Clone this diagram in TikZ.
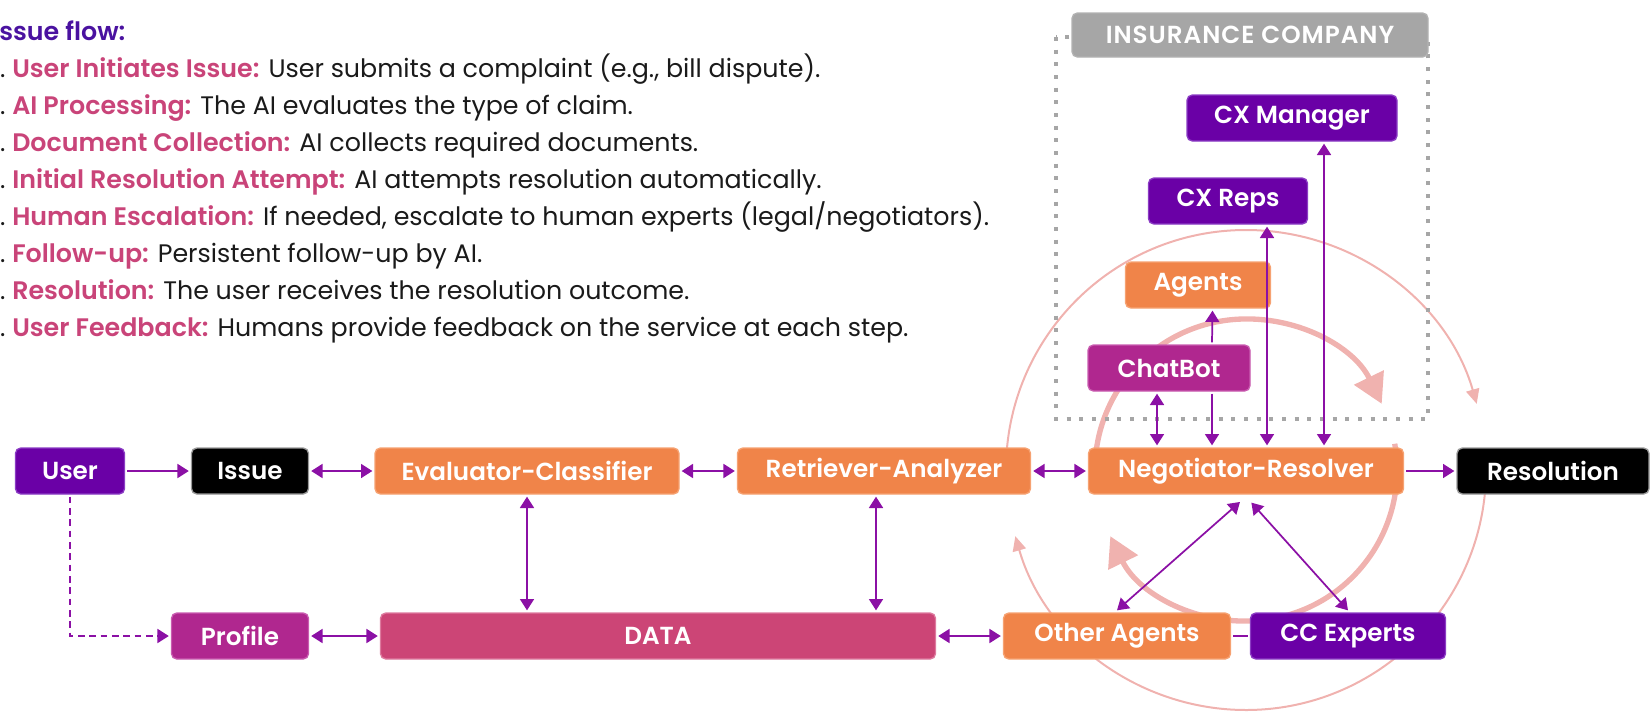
\documentclass[tikz,border=0pt]{standalone}
\usepackage{fontspec}
\setmainfont{Poppins}
\newfontfamily\semibold{Poppins SemiBold}
\newfontfamily\tagfont{Poppins SemiBold}[LetterSpace=4]
\usetikzlibrary{positioning, arrows.meta, calc}
\definecolor{flowpurple}{HTML}{6A00A6}
\definecolor{flowpurpleedge}{HTML}{8B3CC4}
\definecolor{floworange}{HTML}{F08449}
\definecolor{floworangeedge}{HTML}{F6A272}
\definecolor{flowmagenta}{HTML}{B0278F}
\definecolor{flowmagentaedge}{HTML}{C95CB0}
\definecolor{flowdata}{HTML}{CC4576}
\definecolor{flowdataedge}{HTML}{DD7A9E}
\definecolor{flowarrow}{HTML}{8B10A5}
\definecolor{flowring}{HTML}{F0B2AF}
\definecolor{flowgray}{HTML}{A6A6A6}
\definecolor{flowpink}{HTML}{C94479}
\definecolor{flowindigo}{HTML}{4A12A0}
\definecolor{flowtext}{HTML}{1A1A1A}
\newcommand{\boxfont}{\fontsize{18.5}{20}\selectfont\semibold}

\begin{document}
\begin{tikzpicture}[x=0.75pt, y=-0.75pt,
    item/.style={anchor=base west, inner sep=0pt, text=flowtext, font=\fontsize{19}{22}\selectfont},
    heading/.style={anchor=base west, inner sep=0pt, text=flowindigo, font=\fontsize{19}{22}\selectfont\semibold},
    box/.style={rounded corners=4pt, minimum height=34.5pt, inner sep=0pt, outer sep=2pt, text=white, font=\boxfont, line width=1pt},
    purplebox/.style={box, fill=flowpurple, draw=flowpurpleedge},
    blackbox/.style={box, fill=black, draw=gray!80},
    orangebox/.style={box, fill=floworange, draw=floworangeedge},
    magentabox/.style={box, fill=flowmagenta, draw=flowmagentaedge},
    databox/.style={box, fill=flowdata, draw=flowdataedge},
    tagbox/.style={box, fill=flowgray, draw=gray!60, minimum height=33pt, font=\fontsize{18.5}{20}\selectfont\tagfont},
    link/.style={draw=flowarrow, line width=1.3pt, -{Triangle[length=8.5pt, width=10.5pt]}},
    twoway/.style={link, {Triangle[length=8.5pt, width=10.5pt]}-{Triangle[length=8.5pt, width=10.5pt]}},
    ring/.style={draw=flowring, line width=1.5pt, -{Triangle[length=11pt, width=10pt]}},
    bigring/.style={draw=flowring, line width=4pt, -{Triangle[length=22pt, width=24pt]}},
    dotbox/.style={draw=flowgray, line width=3pt, dash pattern=on 3pt off 6.5pt}]

  \useasboundingbox (0,0) rectangle (1652,714);
  \clip (0,0) rectangle (1652,714);

  % steps of the flow
  \node[heading] (heading) at (-8, 40) {Issue flow:};
  \node[item] (item1) at (12, 77) {\llap{1.\ }\textcolor{flowpink}{\semibold User Initiates Issue:} User submits a complaint (e.g., bill dispute).};
  \node[item] (item2) at (12, 114) {\llap{2.\ }\textcolor{flowpink}{\semibold AI Processing:} The AI evaluates the type of claim.};
  \node[item] (item3) at (12, 151) {\llap{3.\ }\textcolor{flowpink}{\semibold Document Collection:} AI collects required documents.};
  \node[item] (item4) at (12, 188) {\llap{4.\ }\textcolor{flowpink}{\semibold Initial Resolution Attempt:} AI attempts resolution automatically.};
  \node[item] (item5) at (12, 225) {\llap{5.\ }\textcolor{flowpink}{\semibold Human Escalation:} If needed, escalate to human experts (legal/negotiators).};
  \node[item] (item6) at (12, 262) {\llap{6.\ }\textcolor{flowpink}{\semibold Follow-up:} Persistent follow-up by AI.};
  \node[item] (item7) at (12, 299) {\llap{7.\ }\textcolor{flowpink}{\semibold Resolution:} The user receives the resolution outcome.};
  \node[item] (item8) at (12, 336) {\llap{8.\ }\textcolor{flowpink}{\semibold User Feedback:} Humans provide feedback on the service at each step.};

  % feedback loops round the resolver
  \coordinate (hub) at (1246, 470);
  \draw[ring] (hub) ++(180:240) arc[start angle=180, end angle=344, radius=240];
  \draw[ring] (hub) ++(0:240) arc[start angle=0, end angle=164, radius=240];
  \draw[bigring] (hub) ++(171:151) arc[start angle=171, end angle=334, radius=151];
  \draw[bigring] (hub) ++(-10:151) arc[start angle=-10, end angle=154, radius=151];

  % company frame
  \draw[dotbox] (1056, 37) rectangle (1428, 419);
  \node[tagbox, minimum width=267pt] (insurer) at (1250, 35) {INSURANCE COMPANY};

  % main row
  \node[purplebox, minimum width=81.8pt] (user) at (70, 471) {User};
  \node[blackbox, minimum width=87.8pt] (issue) at (250, 471) {Issue};
  \node[orangebox, minimum width=228pt] (eval) at (527, 471) {Evaluator-Classifier};
  \node[orangebox, minimum width=219.8pt] (retr) at (884, 471) {Retriever-Analyzer};
  \node[orangebox, minimum width=236.3pt] (nego) at (1246, 471) {Negotiator-Resolver};
  \node[blackbox, minimum width=144pt] (resol) at (1553, 471) {Resolution};

  % bottom row
  \node[magentabox, minimum width=102.8pt] (profile) at (240, 636) {Profile};
  \node[databox, minimum width=416.3pt] (data) at (658, 636) {DATA};
  \node[orangebox, minimum width=170.3pt] (other) at (1117, 636) {Other Agents};
  \node[purplebox, minimum width=146.3pt] (ccexp) at (1348, 636) {CC Experts};

  % inside the company
  \node[magentabox, minimum width=121.5pt] (chatbot) at (1169, 368) {ChatBot};
  \node[orangebox, minimum width=108.8pt] (agents) at (1198, 285) {Agents};
  \node[purplebox, minimum width=119.3pt] (cxreps) at (1228, 201) {CX Reps};
  \node[purplebox, minimum width=157.5pt] (cxman) at (1292, 118) {CX Manager};

  % connectors
  \draw[link] (user) -- (issue);
  \draw[twoway] (issue) -- (eval);
  \draw[twoway] (eval) -- (retr);
  \draw[twoway] (retr) -- (nego);
  \draw[link] (nego) -- (resol);
  \draw[link, dashed, dash pattern=on 5pt off 3.5pt] (user.south) |- (profile.west);
  \draw[twoway] (profile) -- (data);
  \draw[twoway] (data) -- (other);
  \draw[twoway] (eval.south) -- (eval.south |- data.north);
  \draw[twoway] ($(retr.south)+(-8,0)$) -- ($(data.north -| retr.south)+(-8,0)$);
  \draw[twoway, shorten <=6pt] (nego.south) -- (other.north);
  \draw[twoway, shorten <=6pt] (nego.south) -- (ccexp.north);
  \draw[flowarrow, line width=1.3pt] (other) -- (ccexp);
  \draw[twoway] ($(chatbot.south)+(-12,0)$) -- ($(nego.north)+(-89,0)$);
  \draw[link] ($(chatbot.north)+(43,0)$) -- ($(agents.south)+(14.5,0)$);
  \draw[link] ($(chatbot.south)+(43,0)$) -- ($(nego.north)+(-34,0)$);
  \draw[twoway] ($(cxreps.south)+(39,0)$) -- ($(nego.north)+(21,0)$);
  \draw[twoway] ($(cxman.south)+(32,0)$) -- ($(nego.north)+(78,0)$);
\end{tikzpicture}
\end{document}
